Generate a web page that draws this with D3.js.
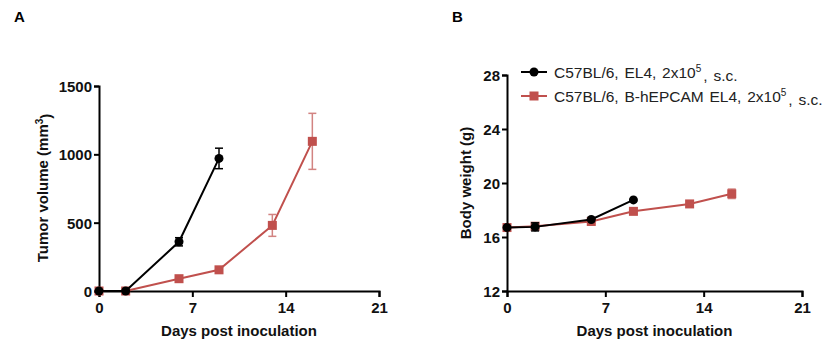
<!DOCTYPE html>
<html>
<head>
<meta charset="utf-8">
<script src="https://cdn.jsdelivr.net/npm/d3@7"></script>
<style>
  body { margin: 0; background: #fff; }
  svg { display: block; font-family: Arial, "Liberation Sans", sans-serif; }
</style>
</head>
<body>
<svg id="chart" width="840" height="349"></svg>
<script>
// days of measurement
const days = [0, 2, 6, 9, 13, 16];

// tumour volume, mm3 (mean and SEM)
const volBlack = [0, 0, 360, 970];
const volBlackErr = [0, 0, 30, 75];
const volRed = [0, 0, 90, 155, 480, 1095];
const volRedErr = [0, 0, 8, 15, 80, 205];

// body weight, g (mean and SEM)
const wBlack = [16.7, 16.75, 17.3, 18.75];
const wBlackErr = [0.1, 0.3, 0.1, 0.1];
const wRed = [16.7, 16.8, 17.15, 17.9, 18.45, 19.2];
const wRedErr = [0.1, 0.15, 0.1, 0.1, 0.1, 0.35];

const xTicks = [0, 7, 14, 21];
const volTicks = [0, 500, 1000, 1500];
const wTicks = [12, 16, 20, 24, 28];

const BLACK = '#000';
const RED = '#c0504d';

const svg = d3.select('#chart');

function series(vals, errs) {
    return vals.map((v, i) => ({ day: days[i], v: v, e: errs[i] }));
}

function panel(opt) {
    const g = svg.append('g');
    const x = d3.scaleLinear().domain([0, 21]).range([opt.left, opt.right]);
    const y = d3.scaleLinear().domain(opt.yDomain).range([opt.bottom, opt.top]);

    const xAxis = g.append('g')
        .attr('transform', `translate(0,${opt.bottom})`)
        .call(d3.axisBottom(x).tickValues(xTicks).tickFormat(d3.format('d')).tickSize(6).tickPadding(3));
    const yAxis = g.append('g')
        .attr('transform', `translate(${opt.left},0)`)
        .call(d3.axisLeft(y).tickValues(opt.yTicks).tickFormat(d3.format('d')).tickSize(5).tickPadding(2));
    [xAxis, yAxis].forEach(a => {
        a.select('.domain').attr('stroke', '#000').attr('stroke-width', 2);
        a.selectAll('.tick line').attr('stroke', '#000').attr('stroke-width', 2);
        a.selectAll('.tick text')
            .attr('fill', '#111')
            .style('font-size', '15px')
            .style('font-weight', 'bold');
    });
    yAxis.selectAll('.tick text').attr('dy', '0.36em');
    xAxis.selectAll('.tick text').attr('dy', '0.85em');

    // x title
    g.append('text')
        .attr('x', (opt.left + opt.right) / 2)
        .attr('y', opt.bottom + 45)
        .attr('text-anchor', 'middle')
        .style('font-size', '15px')
        .style('font-weight', 'bold')
        .attr('fill', '#111')
        .text('Days post inoculation');

    // y title
    const yt = g.append('text')
        .attr('transform', `translate(${opt.yTitleX},${opt.yTitleY}) rotate(-90)`)
        .attr('text-anchor', 'middle')
        .style('font-size', '15px')
        .style('font-weight', 'bold')
        .attr('fill', '#111');
    opt.yTitle(yt);

    const line = d3.line().x(d => x(d.day)).y(d => y(d.v));

    opt.groups.forEach(s => {
        const sg = g.append('g');
        sg.append('path')
            .datum(s.data)
            .attr('d', line)
            .attr('fill', 'none')
            .attr('stroke', s.color)
            .attr('stroke-width', 2);
        const eb = sg.selectAll('.err')
            .data(s.data.filter(d => y(d.v - d.e) - y(d.v + d.e) > 6))
            .join('g')
            .attr('stroke', s.color)
            .attr('stroke-width', 1.5)
            .attr('opacity', s.errOpacity);
        eb.append('line')
            .attr('x1', d => x(d.day)).attr('x2', d => x(d.day))
            .attr('y1', d => y(d.v - d.e)).attr('y2', d => y(d.v + d.e));
        eb.append('line')
            .attr('x1', d => x(d.day) - 4).attr('x2', d => x(d.day) + 4)
            .attr('y1', d => y(d.v - d.e)).attr('y2', d => y(d.v - d.e));
        eb.append('line')
            .attr('x1', d => x(d.day) - 4).attr('x2', d => x(d.day) + 4)
            .attr('y1', d => y(d.v + d.e)).attr('y2', d => y(d.v + d.e));
        drawMarkers(sg, s.data.map(d => [x(d.day), y(d.v)]), s);
    });
    return g;
}

function drawMarkers(sel, pts, s) {
    if (s.shape === 'circle') {
        sel.selectAll('circle.m').data(pts).join('circle')
            .attr('class', 'm')
            .attr('cx', d => d[0]).attr('cy', d => d[1]).attr('r', 4.5)
            .attr('fill', s.color);
    } else {
        sel.selectAll('rect.m').data(pts).join('rect')
            .attr('class', 'm')
            .attr('x', d => d[0] - 4.5).attr('y', d => d[1] - 4.5)
            .attr('width', 9).attr('height', 9)
            .attr('fill', s.color);
    }
}

// Panel A: tumour volume
panel({
    left: 99, right: 379, top: 86, bottom: 291,
    yDomain: [0, 1500], yTicks: volTicks,
    yTitleX: 48, yTitleY: 188,
    yTitle: t => {
        t.append('tspan').text('Tumor volume (mm');
        t.append('tspan').text('3').attr('dy', '-0.5em').style('font-size', '10px');
        t.append('tspan').text(')').attr('dy', '0.5em');
    },
    groups: [
        { data: series(volRed, volRedErr), color: RED, shape: 'square', errOpacity: 0.7 },
        { data: series(volBlack, volBlackErr), color: BLACK, shape: 'circle', errOpacity: 1 }
    ]
});

// Panel B: body weight
panel({
    left: 507, right: 802, top: 75, bottom: 291,
    yDomain: [12, 28], yTicks: wTicks,
    yTitleX: 471, yTitleY: 183,
    yTitle: t => t.text('Body weight (g)'),
    groups: [
        { data: series(wRed, wRedErr), color: RED, shape: 'square', errOpacity: 0.7 },
        { data: series(wBlack, wBlackErr), color: BLACK, shape: 'circle', errOpacity: 1 }
    ]
});

// panel letters
svg.append('text').attr('x', 14).attr('y', 22).text('A')
    .style('font-size', '15px').style('font-weight', 'bold');
svg.append('text').attr('x', 452).attr('y', 22).text('B')
    .style('font-size', '15px').style('font-weight', 'bold');

// legend for panel B
const legendItems = [
    { label: 'C57BL/6, EL4, 2x10', color: BLACK, shape: 'circle' },
    { label: 'C57BL/6, B-hEPCAM EL4, 2x10', color: RED, shape: 'square' }
];
const legend = svg.append('g').attr('transform', 'translate(521,72)');
legendItems.forEach((it, i) => {
    const row = legend.append('g').attr('transform', `translate(0,${i * 24})`);
    row.append('line').attr('x1', 0).attr('x2', 26).attr('y1', 0).attr('y2', 0)
        .attr('stroke', it.color).attr('stroke-width', 2);
    drawMarkers(row, [[13, 0]], it);
    const t = row.append('text').attr('x', 33).attr('y', 0).attr('dy', '0.36em')
        .style('font-size', '15.5px').style('word-spacing', '1.5px').attr('fill', '#222');
    t.append('tspan').text(it.label);
    t.append('tspan').text('5').attr('dy', '-0.55em').style('font-size', '10px');
    t.append('tspan').text(', s.c.').attr('dy', '0.55em').attr('dx', 2);
});
</script>
</body>
</html>
